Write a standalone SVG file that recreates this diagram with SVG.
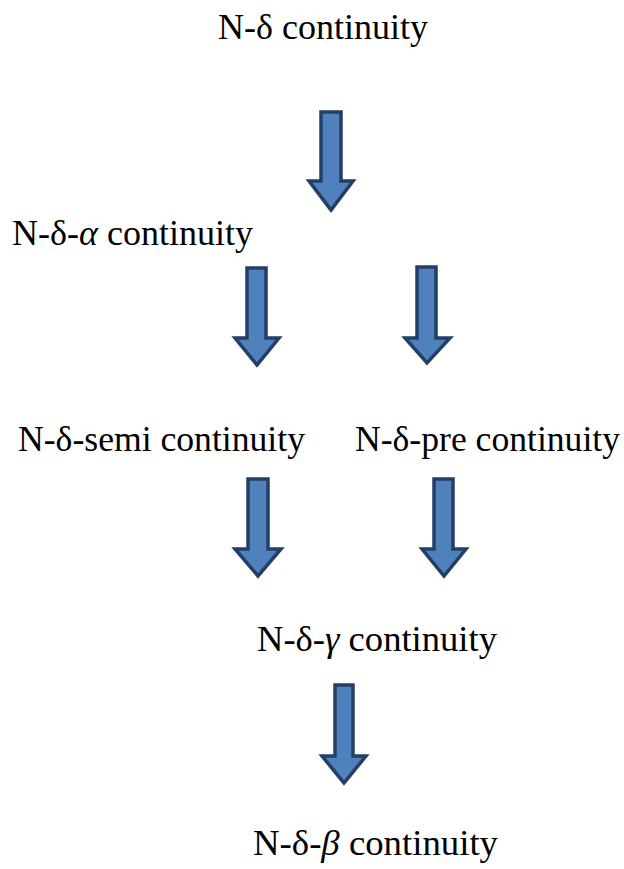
<svg xmlns="http://www.w3.org/2000/svg" width="624" height="869" viewBox="0 0 624 869">
<rect width="624" height="869" fill="#fff"/>
<g id="n1"><text x="218" y="39" font-family="'Liberation Serif'" font-size="35" fill="#000" textLength="210" lengthAdjust="spacingAndGlyphs">N-δ continuity</text></g>
<g id="n2"><text x="12" y="245" font-family="'Liberation Serif'" font-size="35" fill="#000" textLength="241" lengthAdjust="spacingAndGlyphs">N-δ-<tspan font-style="italic">α</tspan> continuity</text></g>
<g id="n3"><text x="18" y="451" font-family="'Liberation Serif'" font-size="35" fill="#000" textLength="287" lengthAdjust="spacingAndGlyphs">N-δ-semi continuity</text></g>
<g id="n4"><text x="355" y="451" font-family="'Liberation Serif'" font-size="35" fill="#000" textLength="265" lengthAdjust="spacingAndGlyphs">N-δ-pre continuity</text></g>
<g id="n5"><text x="257" y="651" font-family="'Liberation Serif'" font-size="35" fill="#000" textLength="240" lengthAdjust="spacingAndGlyphs">N-δ-<tspan font-style="italic">γ</tspan> continuity</text></g>
<g id="n6"><text x="253" y="855" font-family="'Liberation Serif'" font-size="35" fill="#000" textLength="245" lengthAdjust="spacingAndGlyphs">N-δ-<tspan font-style="italic">β</tspan> continuity</text></g>
<g id="connectors" fill="#4f81bd" stroke="#233f66" stroke-width="3.5" stroke-linejoin="miter">
<path d="M321,112 H341 V181 H353 L331,210 L309,181 H321 Z"/>
<path d="M247,268 H266 V338 H279 L257,365 L235,338 H247 Z"/>
<path d="M417,267 H436 V338 H450 L427,363 L405,338 H417 Z"/>
<path d="M248,479 H268 V549 H281 L258,576 L235,549 H248 Z"/>
<path d="M434,479 H453 V549 H466 L444,576 L422,549 H434 Z"/>
<path d="M335,685 H353 V756 H366 L344,783 L322,756 H335 Z"/>
</g>
</svg>
